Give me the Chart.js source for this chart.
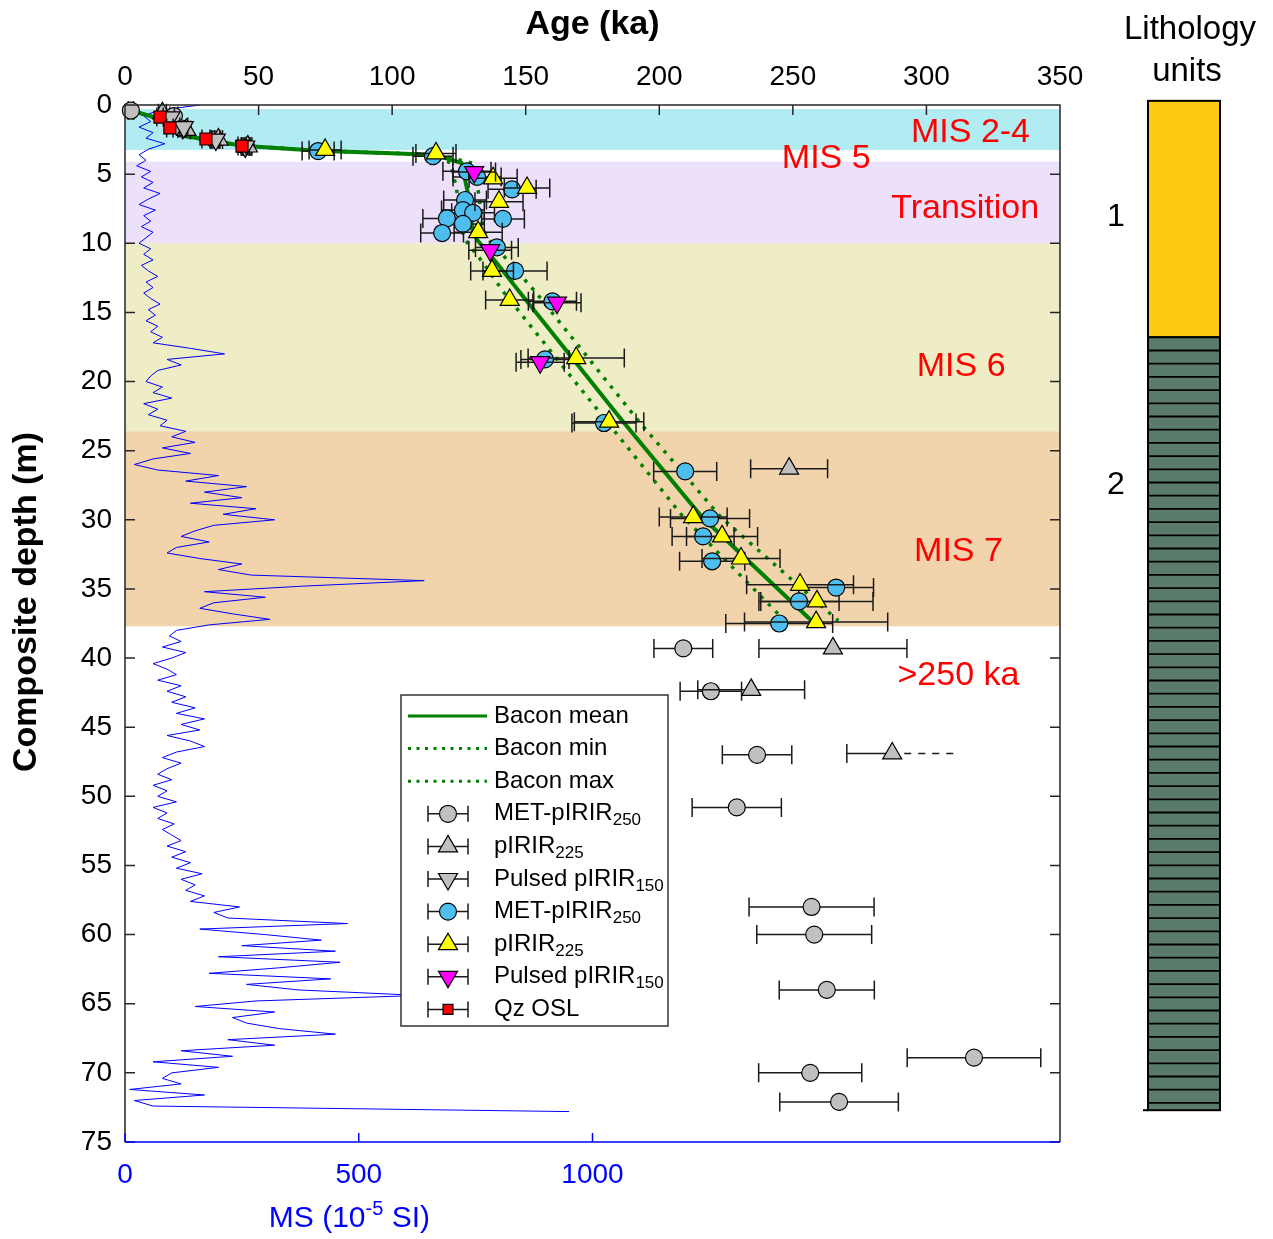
<!DOCTYPE html>
<html>
<head>
<meta charset="utf-8">
<script src="https://cdn.jsdelivr.net/npm/chart.js@4.4.0/dist/chart.umd.min.js"></script>
<style>
  html, body { margin: 0; padding: 0; background: #fff; }
  #wrap { width: 1273px; height: 1239px; }
</style>
</head>
<body>
<div id="wrap"><canvas id="chartIdade" width="1273" height="1239"></canvas></div>
<script>
// eixos
const ageTicks = [0, 50, 100, 150, 200, 250, 300, 350];
const depthTicks = [0, 5, 10, 15, 20, 25, 30, 35, 40, 45, 50, 55, 60, 65, 70, 75];
const msTicks = [0, 500, 1000];

// faixas MIS (profundidade, m)
const bandTop = [0.3, 4.1, 10.0, 23.6];
const bandBottom = [3.25, 10.0, 23.6, 37.7];
const bandColor = ['#b2ecf3', '#ede0fb', '#efedc6', '#f1d4ac'];
const misLabels = ['MIS 2-4', 'MIS 5', 'Transition', 'MIS 6', 'MIS 7', '>250 ka'];
const misAge = [316.5, 262.5, 314.5, 313, 312, 312];
const misDepth = [2.0, 3.85, 7.5, 18.9, 32.3, 41.3];

// susceptibilidade magnetica, um valor a cada 0.4 m
const msStep = 0.4;
const msValue = [
  160, 70, 40, 55, 30, 60, 45, 85, 50, 30,
  45, 25, 55, 35, 60, 40, 75, 50, 30, 65,
  40, 55, 35, 60, 45, 30, 55, 40, 60, 35,
  50, 70, 45, 60, 40, 55, 75, 50, 65, 45,
  70, 55, 80, 60, 140, 213, 90, 120, 70, 55,
  45, 80, 60, 100, 40, 70, 50, 90, 75, 130,
  100, 150, 80, 140, 60, 20, 70, 200, 130, 260,
  170, 250, 140, 280, 210, 320, 190, 150, 120, 180,
  110, 90, 160, 250, 200, 270, 640, 380, 170, 300,
  190, 160, 230, 310, 180, 110, 95, 120, 80, 130,
  100, 60, 90, 110, 70, 120, 90, 130, 100, 150,
  110, 170, 120, 160, 90, 140, 170, 110, 80, 120,
  90, 70, 100, 60, 90, 70, 110, 60, 90, 70,
  105, 80, 100, 120, 90, 130, 100, 140, 110, 165,
  120, 150, 130, 170, 140, 245, 190, 220, 476, 160,
  300, 420, 250, 450, 200, 460, 330, 180, 440, 260,
  370, 630, 280, 150, 320, 230, 260, 330, 450, 220,
  320, 120, 230, 60, 200, 100, 80, 120, 10, 170,
  20, 60, 950
];

// modelo Bacon
const baconDepth = [0.4, 1.0, 2.2, 2.5, 2.95, 3.3, 3.6, 4.2, 6.5, 9.0, 9.8, 11.4, 13.6, 22.8, 29.8, 37.3];
const baconMean = [2.2, 13, 21, 30, 44, 72, 116, 126, 128.5, 130, 132, 139, 148, 186, 216, 257];
const baconMin = [2.2, 13, 21, 30, 44, 72, 115, 122, 124.5, 126, 127.5, 134, 142, 180, 209, 247];
const baconMax = [2.2, 13, 21, 30, 44, 72, 117, 130, 132.5, 134, 136.5, 144, 154, 192, 223, 267];

// idades (ka), profundidade (m), erro (ka)
const gCirAge = [2.2, 18.3, 21.3, 33.7, 45.3, 209, 219.3, 236.6, 229, 257, 258, 262.7, 317.8, 256.5, 267.3];
const gCirDepth = [0.4, 0.8, 1.7, 2.5, 3.0, 39.3, 42.4, 47.0, 50.8, 58.0, 60.0, 64.0, 68.9, 70.0, 72.1];
const gCirErr = [1, 1.5, 1.5, 1.5, 1.5, 11, 11.5, 13, 16.7, 23.4, 21.5, 17.8, 25, 19.3, 22.2];

const gTriAge = [14, 23, 35, 46, 248.6, 265, 234.4, 287.2];
const gTriDepth = [0.6, 1.8, 2.5, 3.0, 26.3, 39.3, 42.3, 46.9];
const gTriErrLo = [1.5, 1.5, 1.5, 1.5, 14.4, 27.7, 20, 17];
const gTriErrHi = [1.5, 1.5, 1.5, 1.5, 14.4, 27.7, 20, 24.4];
const gTriOpen = [false, false, false, false, false, false, false, true];

const gPulAge = [17, 22, 34, 45];
const gPulDepth = [0.9, 1.6, 2.5, 3.0];
const gPulErr = [1.5, 1.5, 1.5, 1.5];

const bCirAge = [72.3, 115.3, 128, 131.8, 144.9, 127.3, 126.5, 130.3, 120.5, 141.5, 126.5, 118.7, 139.2, 146, 160, 157.2, 179.3, 209.7, 219, 216.4, 219.8, 266.2, 252.3, 244.9];
const bCirDepth = [3.33, 3.7, 4.8, 5.2, 6.1, 6.87, 7.6, 7.8, 8.2, 8.24, 8.6, 9.26, 10.3, 12.0, 14.2, 18.4, 23.0, 26.5, 29.9, 31.2, 33.0, 34.9, 35.9, 37.5];
const bCirErr = [6, 7.5, 9, 9, 9, 8, 8, 8, 9, 8, 8, 8, 8, 12, 9, 9, 12, 11.8, 14.8, 11.6, 12.2, 14, 15, 20];

const yTriAge = [74.9, 116.4, 137.8, 150.5, 140, 132.2, 137.4, 144, 168.9, 181.2, 212.7, 223.5, 230.6, 252.7, 259, 258.7];
const yTriDepth = [3.25, 3.5, 5.3, 6.0, 7.0, 9.2, 12.0, 14.1, 18.3, 22.9, 29.8, 31.2, 32.8, 34.7, 35.9, 37.4];
const yTriErr = [6, 7.5, 9, 8.5, 9, 9, 8, 9, 18, 13, 12.7, 13.3, 14.6, 20, 21, 26.8];

const mPulAge = [130.7, 136.7, 161.7, 155.4];
const mPulDepth = [4.85, 10.5, 14.3, 18.6];
const mPulErr = [8, 8, 9, 9];

const qzAge = [13.1, 16.8, 30.3, 43.8];
const qzDepth = [0.87, 1.66, 2.46, 2.97];
const qzErr = [1.2, 1.2, 1.5, 1.5];

// litologia
const litTop = [-0.3, 16.8];
const litBottom = [16.8, 72.7];
const litColor = ['#ffcb12', '#5a7b6c'];
const litStriped = [false, true];
const litLabel = ['1', '2'];
const litLabelDepth = [8.1, 27.5];

const fonte = 'Arial, "Liberation Sans", sans-serif';

function linhaBacon(label, ages, dash, order) {
    return {
        label: label, nome: label, sub: '',
        data: ages.map((a, i) => ({ x: a, y: baconDepth[i] })),
        xAxisID: 'x', yAxisID: 'y',
        showLine: true, borderColor: '#008000', borderWidth: dash.length ? 3.5 : 4,
        borderDash: dash, pointRadius: 0, tension: 0, fill: false, order: order
    };
}

function seriePontos(nome, sub, ages, depths, errLo, errHi, cor, estilo, raio, rotacao, order, aberto) {
    return {
        label: nome + sub, nome: nome, sub: sub,
        data: ages.map((a, i) => ({ x: a, y: depths[i] })),
        xAxisID: 'x', yAxisID: 'y', showLine: false, clip: false,
        pointStyle: estilo, pointRadius: raio, pointHoverRadius: raio, pointRotation: rotacao,
        pointBackgroundColor: cor, pointBorderColor: '#000', pointBorderWidth: 1.2,
        order: order, errLo: errLo, errHi: errHi, aberto: aberto || []
    };
}

const datasets = [
    {
        label: 'MS', semLegenda: true,
        data: msValue.map((v, i) => ({ x: v, y: +(i * msStep).toFixed(1) })),
        xAxisID: 'ms', yAxisID: 'y', showLine: true, borderColor: '#0000ff', borderWidth: 1,
        pointRadius: 0, tension: 0, fill: false, order: 40
    },
    linhaBacon('Bacon mean', baconMean, [], 30),
    linhaBacon('Bacon min', baconMin, [3.5, 7], 31),
    linhaBacon('Bacon max', baconMax, [3.5, 7], 32),
    seriePontos('MET-pIRIR', '250', gCirAge, gCirDepth, gCirErr, gCirErr, '#c0c0c0', 'circle', 8.5, 0, 9),
    seriePontos('pIRIR', '225', gTriAge, gTriDepth, gTriErrLo, gTriErrHi, '#c0c0c0', 'triangle', 11, 0, 8, gTriOpen),
    seriePontos('Pulsed pIRIR', '150', gPulAge, gPulDepth, gPulErr, gPulErr, '#c0c0c0', 'triangle', 11, 180, 7),
    seriePontos('MET-pIRIR', '250', bCirAge, bCirDepth, bCirErr, bCirErr, '#4dbeee', 'circle', 8.5, 0, 6),
    seriePontos('pIRIR', '225', yTriAge, yTriDepth, yTriErr, yTriErr, '#ffff00', 'triangle', 11, 0, 5),
    seriePontos('Pulsed pIRIR', '150', mPulAge, mPulDepth, mPulErr, mPulErr, '#ff00ff', 'triangle', 11, 180, 4),
    seriePontos('Qz OSL', '', qzAge, qzDepth, qzErr, qzErr, '#ff0000', 'rect', 8.5, 0, 3)
];

function desenhaErro(ctx, xl, xc, xr, py, cap, aberto) {
    ctx.beginPath();
    ctx.moveTo(xl, py - cap); ctx.lineTo(xl, py + cap);
    ctx.moveTo(xl, py); ctx.lineTo(aberto ? xc : xr, py);
    if (!aberto) { ctx.moveTo(xr, py - cap); ctx.lineTo(xr, py + cap); }
    ctx.stroke();
    if (aberto) {
        ctx.save();
        ctx.setLineDash([7, 7]);
        ctx.beginPath();
        ctx.moveTo(xc + 12, py); ctx.lineTo(xr, py);
        ctx.stroke();
        ctx.restore();
    }
}

const extrasIdade = {
    id: 'extrasIdade',
    beforeDatasetsDraw(chart) {
        const { ctx, chartArea: a, scales: { y } } = chart;
        ctx.save();
        for (let i = 0; i < bandTop.length; i++) {
            const y0 = y.getPixelForValue(bandTop[i]);
            const y1 = y.getPixelForValue(bandBottom[i]);
            ctx.fillStyle = bandColor[i];
            ctx.fillRect(a.left, y0, a.right - a.left, y1 - y0);
        }
        ctx.restore();
    },
    beforeDatasetDraw(chart, args) {
        const ds = chart.data.datasets[args.index];
        if (!ds.errLo) return;
        const { ctx, scales: { x } } = chart;
        ctx.save();
        ctx.strokeStyle = '#1a1a1a';
        ctx.lineWidth = 1.5;
        ds.data.forEach((p, i) => {
            const py = args.meta.data[i].y;
            const xl = x.getPixelForValue(p.x - ds.errLo[i]);
            const xr = x.getPixelForValue(p.x + ds.errHi[i]);
            desenhaErro(ctx, xl, x.getPixelForValue(p.x), xr, py, 9.5, ds.aberto[i]);
        });
        ctx.restore();
    },
    afterDatasetsDraw(chart) {
        const { ctx, chartArea: a, scales: { x, y, ms } } = chart;
        ctx.save();
        // textos MIS
        ctx.fillStyle = '#ff0000';
        ctx.font = '34px ' + fonte;
        ctx.textAlign = 'center';
        ctx.textBaseline = 'middle';
        misLabels.forEach((t, i) => {
            ctx.fillText(t, x.getPixelForValue(misAge[i]), y.getPixelForValue(misDepth[i]));
        });
        // moldura e ticks para dentro
        ctx.strokeStyle = '#262626';
        ctx.lineWidth = 1.5;
        ctx.beginPath();
        ctx.moveTo(a.left, a.bottom); ctx.lineTo(a.left, a.top);
        ctx.lineTo(a.right, a.top); ctx.lineTo(a.right, a.bottom);
        ageTicks.forEach(v => {
            const px = x.getPixelForValue(v);
            ctx.moveTo(px, a.top); ctx.lineTo(px, a.top + 10);
        });
        depthTicks.forEach(v => {
            const py = y.getPixelForValue(v);
            ctx.moveTo(a.left, py); ctx.lineTo(a.left + 10, py);
            ctx.moveTo(a.right, py); ctx.lineTo(a.right - 10, py);
        });
        ctx.stroke();
        ctx.strokeStyle = '#0000ff';
        ctx.beginPath();
        ctx.moveTo(a.left, a.bottom); ctx.lineTo(a.right, a.bottom);
        msTicks.forEach(v => {
            const px = ms.getPixelForValue(v);
            ctx.moveTo(px, a.bottom); ctx.lineTo(px, a.bottom - 9);
        });
        ctx.stroke();
        ctx.restore();
    },
    afterDraw(chart) {
        const { ctx, scales: { y, ms } } = chart;
        ctx.save();

        // titulo profundidade
        ctx.save();
        ctx.translate(27, 602);
        ctx.rotate(-Math.PI / 2);
        ctx.fillStyle = '#000';
        ctx.font = 'bold 34px ' + fonte;
        ctx.textAlign = 'center';
        ctx.textBaseline = 'middle';
        ctx.fillText('Composite depth (m)', 0, 0);
        ctx.restore();

        // titulo MS com expoente
        ctx.fillStyle = '#0000ff';
        ctx.textBaseline = 'middle';
        ctx.textAlign = 'left';
        const partes = [['MS (10', '30px', 0], ['-5', '20px', -10], [' SI)', '30px', 0]];
        let larg = 0;
        partes.forEach(p => { ctx.font = p[1] + ' ' + fonte; larg += ctx.measureText(p[0]).width; });
        let tx = ms.getPixelForValue(480) - larg / 2;
        partes.forEach(p => {
            ctx.font = p[1] + ' ' + fonte;
            ctx.fillText(p[0], tx, 1219 + p[2]);
            tx += ctx.measureText(p[0]).width;
        });

        // legenda
        const lx = 401, ly = 695, lw = 267, lh = 331;
        ctx.fillStyle = '#fff';
        ctx.fillRect(lx, ly, lw, lh);
        ctx.strokeStyle = '#333';
        ctx.lineWidth = 1.5;
        ctx.strokeRect(lx, ly, lw, lh);
        const itens = chart.data.datasets.filter(d => !d.semLegenda);
        itens.forEach((d, i) => {
            const cy = 716 + 32.6 * i;
            if (d.showLine) {
                ctx.save();
                ctx.strokeStyle = d.borderColor;
                ctx.lineWidth = 3;
                ctx.setLineDash(d.borderDash.length ? [3, 5.5] : []);
                ctx.beginPath();
                ctx.moveTo(408, cy); ctx.lineTo(487, cy);
                ctx.stroke();
                ctx.restore();
            } else {
                ctx.strokeStyle = '#1a1a1a';
                ctx.lineWidth = 1.5;
                desenhaErro(ctx, 428, 448, 468, cy, 8, false);
                ctx.fillStyle = d.pointBackgroundColor;
                ctx.strokeStyle = '#000';
                ctx.lineWidth = 1.2;
                Chart.helpers.drawPoint(ctx, {
                    pointStyle: d.pointStyle, radius: d.pointStyle === 'rect' ? 7 : d.pointRadius,
                    rotation: d.pointRotation, borderWidth: 1.2
                }, 448, cy);
            }
            ctx.fillStyle = '#000';
            ctx.textAlign = 'left';
            ctx.textBaseline = 'middle';
            ctx.font = '24px ' + fonte;
            ctx.fillText(d.nome, 494, cy);
            if (d.sub) {
                const w = ctx.measureText(d.nome).width;
                ctx.font = '17px ' + fonte;
                ctx.fillText(d.sub, 494 + w, cy + 7);
            }
        });

        // coluna de litologia
        const cx0 = 1148, cx1 = 1220;
        ctx.fillStyle = '#000';
        ctx.font = '33px ' + fonte;
        ctx.textAlign = 'center';
        ctx.textBaseline = 'middle';
        ctx.fillText('Lithology', 1190, 30);
        ctx.fillText('units', 1187, 72);
        for (let i = 0; i < litTop.length; i++) {
            const y0 = y.getPixelForValue(litTop[i]);
            const y1 = y.getPixelForValue(litBottom[i]);
            ctx.fillStyle = litColor[i];
            ctx.fillRect(cx0, y0, cx1 - cx0, y1 - y0);
            if (litStriped[i]) {
                ctx.strokeStyle = '#000';
                ctx.lineWidth = 1.8;
                ctx.beginPath();
                for (let yy = y0 + 13.2; yy < y1 - 3; yy += 13.2) {
                    ctx.moveTo(cx0, yy); ctx.lineTo(cx1, yy);
                }
                ctx.stroke();
            }
            ctx.strokeStyle = '#000';
            ctx.lineWidth = 2;
            ctx.strokeRect(cx0, y0, cx1 - cx0, y1 - y0);
            ctx.fillStyle = '#000';
            ctx.font = '32px ' + fonte;
            ctx.fillText(litLabel[i], 1116, y.getPixelForValue(litLabelDepth[i]));
        }
        const yb = y.getPixelForValue(litBottom[litBottom.length - 1]);
        ctx.beginPath();
        ctx.moveTo(1143, yb); ctx.lineTo(cx0, yb);
        ctx.stroke();
        ctx.restore();
    }
};

const eixoFonte = { family: fonte, size: 28 };
const semVirgula = v => String(v);

new Chart(document.getElementById('chartIdade'), {
    type: 'scatter',
    data: { datasets: datasets },
    options: {
        responsive: false,
        animation: false,
        devicePixelRatio: 1,
        events: [],
        layout: { padding: { left: 0, right: 213, top: 0, bottom: 0 } },
        plugins: { legend: { display: false }, tooltip: { enabled: false } },
        scales: {
            x: {
                type: 'linear', position: 'top', min: 0, max: 350,
                afterBuildTicks: s => { s.ticks = ageTicks.map(v => ({ value: v })); },
                afterFit: s => { s.height = 105; },
                grid: { display: false, drawTicks: false }, border: { display: false },
                ticks: { color: '#000', font: eixoFonte, padding: 11, autoSkip: false, maxRotation: 0, callback: semVirgula },
                title: { display: true, text: 'Age (ka)', color: '#000', font: { family: fonte, size: 34, weight: 'bold' }, padding: { top: 4, bottom: 0 } }
            },
            ms: {
                type: 'linear', position: 'bottom', min: 0, max: 2000,
                afterBuildTicks: s => { s.ticks = msTicks.map(v => ({ value: v })); },
                afterFit: s => { s.height = 97; },
                grid: { display: false, drawTicks: false }, border: { display: false },
                ticks: { color: '#0000ff', font: eixoFonte, padding: 16, autoSkip: false, maxRotation: 0, callback: semVirgula }
            },
            y: {
                type: 'linear', position: 'left', reverse: true, min: 0, max: 75,
                afterBuildTicks: s => { s.ticks = depthTicks.map(v => ({ value: v })); },
                afterFit: s => { s.width = 125; },
                grid: { display: false, drawTicks: false }, border: { display: false },
                ticks: { color: '#000', font: eixoFonte, padding: 13, autoSkip: false, callback: semVirgula }
            }
        }
    },
    plugins: [extrasIdade]
});
</script>
</body>
</html>
